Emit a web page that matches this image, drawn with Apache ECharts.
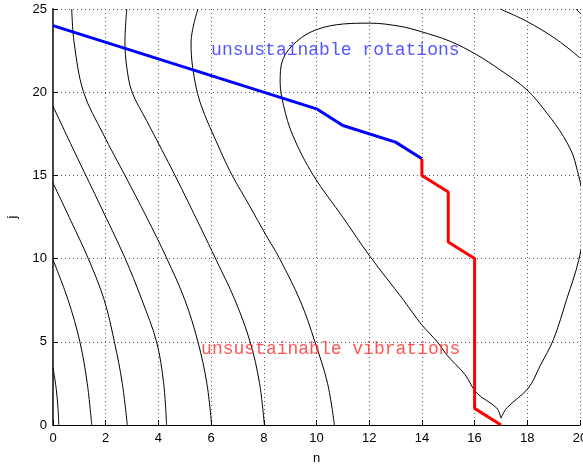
<!DOCTYPE html>
<html>
<head>
<meta charset="utf-8">
<script src="https://cdn.jsdelivr.net/npm/echarts@6/dist/echarts.min.js"></script>
<style>
html,body{margin:0;padding:0;background:#fff;}
#chart{width:583px;height:468px;}
</style>
</head>
<body>
<div id="chart"></div>
<script>
// Boundary lines
const rotationsN = [0, 10, 11, 13, 14];
const rotationsJ = [24, 19, 18, 17, 16];
const vibrationsN = [14, 14, 15, 15, 16, 16, 17];
const vibrationsJ = [16, 15, 14, 11, 10, 1, 0];

// Contour curves, [n, j] pairs
const contourA = [[0,3.44],[0.12,2.2],[0.19,1.0],[0.22,0]];
const contourB = [[0,9.93],[0.57,7.53],[1.02,5],[1.3,2.5],[1.47,0]];
const contourC = [[0,14.54],[0.67,12.3],[1.34,10],[1.94,7.53],[2.33,5],[2.63,2.5],[2.82,0]];
const contourD = [[0,19.15],[0.96,15.94],[1.78,13.24],[2.73,10.04],[3.37,7.53],[3.93,5],[4.2,2.5],[4.31,0]];
const contourE = [[0.71,25],[0.8,23],[1.16,20],[1.9,17.5],[2.73,15],[3.55,12.5],[4.31,10.04],[5.0,7.53],[5.5,5.0],[5.84,2.5],[6.02,0]];
const contourF = [[2.8,25],[2.73,23],[2.8,21.5],[3.0,20],[3.55,18.3],[4.13,16.54],[4.63,15],[5.58,11.94],[6.2,9.9],[6.9,7.53],[7.48,5],[7.84,2.5],[8.02,0]];
const contourG = [[5.5,25],[5.24,23],[5.3,21.5],[5.58,19.4],[6.34,16.53],[6.8,15],[7.45,13.2],[8.05,11.5],[8.6,10],[9.4,7.4],[9.94,5],[10.42,2.5],[10.68,0]];
const contourLoop = [[17.0,0.42],[16.84,1.02],[16.08,1.92],[15.64,3.02],[14.94,4.22],[14.62,4.93],[13.99,6.03],[13.29,7.53],[12.03,10.13],[11.02,12.44],[9.88,15.0],[9.1,17.4],[8.75,19.2],[8.62,20.6],[8.72,21.96],[9.25,23.06],[10.0,23.76],[11.02,24.1],[12.03,24.15],[13.17,23.96],[13.93,23.66],[15.07,23.06],[16.08,22.25],[16.96,21.35],[17.98,20.15],[18.74,18.75],[19.37,17.34],[19.8,15.9],[20.2,12.3],[19.95,9.9],[19.49,7.53],[18.99,5.13],[18.5,3.6],[18.04,2.22],[17.22,1.02],[17.0,0.42]];
const contourI = [[16.96,25],[17.98,24.26],[19.12,23.16],[20,22.06]];
const contourJ = [[19.85,25],[20.1,24.6]];

// Annotations
const labelRotations = {text: 'unsustainable rotations', n: 6.0, j: 22.5};
const labelVibrations = {text: 'unsustainable vibrations', n: 5.62, j: 4.55};

const zip = (a, b) => a.map((v, i) => [v, b[i]]);

const contours = [contourA, contourB, contourC, contourD, contourE, contourF, contourG, contourLoop, contourI, contourJ];

const series = contours.map(c => ({
  type: 'line', data: c, symbol: 'none', smooth: 0.35, clip: true,
  lineStyle: {color: '#000', width: 1}, silent: true, z: 2
}));

series.push({
  type: 'line', data: zip(rotationsN, rotationsJ), symbol: 'none',
  lineStyle: {color: '#0000ff', width: 3}, z: 4
});
series.push({
  type: 'line', data: zip(vibrationsN, vibrationsJ), symbol: 'none',
  lineStyle: {color: '#ff0000', width: 3}, z: 4
});
[[labelRotations, '#2a2aff'], [labelVibrations, '#ff2a2a']].forEach(([l, col]) => {
  series.push({
    type: 'scatter', symbolSize: 0, data: [[l.n, l.j]], z: 5,
    label: {show: true, position: 'right', distance: 0, formatter: l.text,
      color: col, fontFamily: 'Liberation Mono', fontSize: 18}
  });
});

const chart = echarts.init(document.getElementById('chart'), null, {renderer: 'canvas'});
const grid = {left: 53, right: 3, top: 9, bottom: 43, outerBoundsMode: 'none', containLabel: false};
const splitStyle = {show: true, lineStyle: {color: '#555', width: 1, type: [1, 3]}};
chart.setOption({
  animation: false,
  backgroundColor: '#fff',
  grid: grid,
  xAxis: {
    type: 'value', min: 0, max: 20, interval: 2,
    name: 'n', nameLocation: 'middle', nameGap: 27,
    nameTextStyle: {color: '#000', fontSize: 13, fontFamily: 'Liberation Sans'},
    axisLine: {show: true, onZero: false, lineStyle: {color: '#000', width: 1}},
    axisTick: {show: true, inside: true, length: 5, lineStyle: {color: '#000'}},
    axisLabel: {color: '#000', fontSize: 13, fontFamily: 'Liberation Sans', margin: 7, showMaxLabel: true},
    splitLine: splitStyle
  },
  yAxis: {
    type: 'value', min: 0, max: 25, interval: 5,
    name: 'j', nameLocation: 'middle', nameGap: 34, nameRotate: 90,
    nameTextStyle: {color: '#000', fontSize: 13, fontFamily: 'Liberation Sans'},
    axisLine: {show: true, onZero: false, lineStyle: {color: '#444', width: 2}},
    axisTick: {show: true, inside: true, length: 5, lineStyle: {color: '#000'}},
    axisLabel: {color: '#000', fontSize: 13, fontFamily: 'Liberation Sans', margin: 6},
    splitLine: splitStyle
  },
  series: series
});
</script>
</body>
</html>
